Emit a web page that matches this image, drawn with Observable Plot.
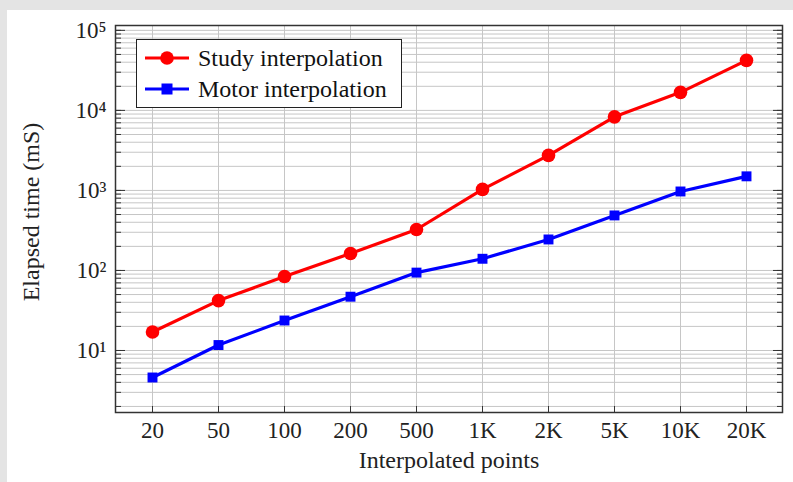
<!DOCTYPE html>
<html><head><meta charset="utf-8">
<script src="https://cdn.jsdelivr.net/npm/d3@7"></script>
<script src="https://cdn.jsdelivr.net/npm/@observablehq/plot@0.6"></script>
<style>
html,body{margin:0;padding:0}
body{background:#e4e4e4;width:793px;height:482px;overflow:hidden;font-family:"Liberation Serif","Times New Roman",serif;position:relative}
#panel{position:absolute;left:7px;top:10px;width:786px;height:472px;background:#fff}
#legend{position:absolute;left:129px;top:29px;width:264px;height:67px;border:1.5px solid #222;background:#fff}
.item{position:absolute;left:8px;height:30px;display:flex;align-items:center;font-size:24px;color:#111;white-space:nowrap;font-family:"Liberation Serif","Times New Roman",serif}
.item svg{margin-right:9px}
</style></head><body>
<div id="panel"><div id="chart"></div><div id="legend"></div></div>
<script>
const points = ["20","50","100","200","500","1K","2K","5K","10K","20K"];
const study = [17, 42, 84, 163, 325, 1030, 2740, 8300, 16800, 42200];
const motor = [4.6, 11.7, 23.7, 47, 94, 140, 244, 487, 970, 1500];
const seriesNames = ["Study interpolation", "Motor interpolation"];
const seriesColors = ["#ff0000", "#0000ff"];
const yMajor = [10, 100, 1000, 10000, 100000];

const yMinor = [];
for (let e = 0; e <= 4; e++) for (let k = 2; k <= 9; k++) yMinor.push(k * 10 ** e);
const yAll = yMajor.concat(yMinor);

const rows = [];
points.forEach((p, i) => {
  rows.push({points: p, time: study[i], series: seriesNames[0]});
  rows.push({points: p, time: motor[i], series: seriesNames[1]});
});
const studyRows = rows.filter(d => d.series === seriesNames[0]);
const motorRows = rows.filter(d => d.series === seriesNames[1]);

const sup = "⁰¹²³⁴⁵⁶⁷⁸⁹";
const fmt = d => yMajor.includes(d) ? "10" + sup[Math.round(Math.log10(d))] : "";

const chart = Plot.plot({
  width: 786, height: 472,
  marginLeft: 108, marginTop: 15, marginRight: 11, marginBottom: 70,
  style: {fontFamily: "Liberation Serif, Times New Roman, serif", fontSize: "22px", color: "#222", background: "transparent", overflow: "visible"},
  x: {type: "point", domain: points, padding: 0.5, label: null},
  y: {type: "log", domain: [1.68, 115000], label: null},
  marks: [
    Plot.gridY(yAll, {stroke: "#c6c6c6", strokeOpacity: 1, strokeWidth: 1}),
    Plot.gridX({stroke: "#c6c6c6", strokeOpacity: 1, strokeWidth: 1}),
    Plot.axisY(yAll, {anchor: "left", tickSize: -6, tickPadding: 15, tickFormat: fmt, stroke: "#333", fontSize: 23}),
    Plot.axisY(yMajor, {anchor: "left", tickSize: -10, tickFormat: () => "", stroke: "#333"}),
    Plot.axisY(yAll, {anchor: "right", tickSize: -6, tickFormat: () => "", stroke: "#333"}),
    Plot.axisY(yMajor, {anchor: "right", tickSize: -10, tickFormat: () => "", stroke: "#333"}),
    Plot.axisX({anchor: "bottom", tickSize: -6, tickPadding: 15, stroke: "#333", fontSize: 23}),
    Plot.frame({stroke: "#333", strokeWidth: 1.5}),
    Plot.line(studyRows, {x: "points", y: "time", stroke: seriesColors[0], strokeWidth: 3.2}),
    Plot.dot(studyRows, {x: "points", y: "time", fill: seriesColors[0], r: 6.8, symbol: "circle"}),
    Plot.line(motorRows, {x: "points", y: "time", stroke: seriesColors[1], strokeWidth: 3.2}),
    Plot.dot(motorRows, {x: "points", y: "time", fill: seriesColors[1], r: 5.6, symbol: "square"}),
    Plot.text(["Elapsed time (mS)"], {frameAnchor: "left", textAnchor: "middle", dx: -84, dy: -7, rotate: -90, fontSize: 24, fill: "#222"}),
    Plot.text(["Interpolated points"], {frameAnchor: "bottom", textAnchor: "middle", dy: 55, fontSize: 24, fill: "#222"})
  ]
});
document.getElementById("chart").append(chart);

const legend = d3.select("#legend");
seriesNames.forEach((name, i) => {
  const item = legend.append("div").attr("class", "item").style("top", (i === 0 ? 3 : 34) + "px");
  const s = item.append("svg").attr("width", 44).attr("height", 16);
  s.append("line").attr("x1", 0).attr("x2", 44).attr("y1", 8).attr("y2", 8)
    .attr("stroke", seriesColors[i]).attr("stroke-width", 3);
  if (i === 0) s.append("circle").attr("cx", 22).attr("cy", 8).attr("r", 6.8).attr("fill", seriesColors[i]);
  else s.append("rect").attr("x", 16.5).attr("y", 2.5).attr("width", 11).attr("height", 11).attr("fill", seriesColors[i]);
  item.append("span").text(name);
});
</script>
</body></html>
